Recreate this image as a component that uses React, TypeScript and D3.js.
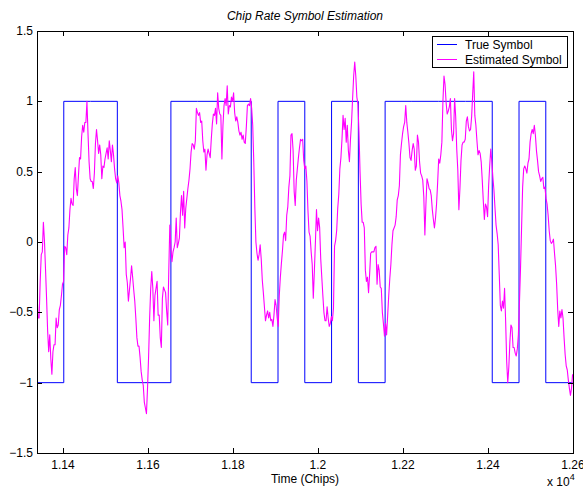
import React from 'react';
import * as d3 from 'd3';

// ---- data ----
const X_START = 11339; // chips, left edge of axis
const X_END = 12600;
const SAMPLE_STEP = 2.5; // chips between estimated samples
const SYMBOL_PERIOD = 63; // chips per symbol

const TRUE_SYMBOLS = [-1, 1, 1, -1, -1, 1, 1, 1, -1, 1, -1, 1, -1, 1, 1, 1, 1, -1, 1, -1];

const ESTIMATED = [
  -0.35, -0.54, -0.54, -0.28, -0.09, -0.07, 0.14, 0.01, -0.19, -0.40,
  -0.63, -0.78, -0.66, -0.83, -0.94, -0.78, -0.73, -0.73, -0.54, -0.61,
  -0.59, -0.48, -0.45, -0.38, -0.30, -0.28, -0.03, -0.04, -0.09, 0.05,
  0.10, 0.23, 0.31, 0.27, 0.26, 0.45, 0.53, 0.38, 0.33, 0.47,
  0.60, 0.59, 0.75, 0.83, 0.78, 0.85, 0.85, 1.00, 0.77, 0.57,
  0.45, 0.43, 0.43, 0.38, 0.49, 0.70, 0.80, 0.72, 0.63, 0.69,
  0.62, 0.45, 0.54, 0.53, 0.59, 0.63, 0.67, 0.59, 0.72, 0.65,
  0.57, 0.69, 0.62, 0.52, 0.45, 0.42, 0.47, 0.42, 0.33, 0.29,
  0.23, 0.10, -0.04, 0.00, -0.23, -0.29, -0.42,
  -0.34, -0.26, -0.17, -0.25, -0.34, -0.42, -0.54, -0.68, -0.74, -0.74,
  -0.82, -0.92, -0.98, -1.02, -1.14, -1.18, -1.22, -1.04, -0.82, -0.54,
  -0.33, -0.21, -0.33, -0.56, -0.38, -0.33, -0.28, -0.52, -0.52, -0.68,
  -0.75, -0.40, -0.32, -0.34, -0.36, -0.49, -0.59, -0.21, 0.12, -0.04,
  -0.14, -0.07, -0.04, 0.00, 0.17, -0.04, -0.01, 0.03, 0.21, 0.33,
  0.19, 0.36, 0.10, 0.24, 0.31, 0.38, 0.44, 0.52, 0.64, 0.70,
  0.69, 0.66, 0.72, 0.95, 0.92, 0.90, 0.92, 0.85, 0.86, 0.72,
  0.64, 0.66, 0.51, 0.62, 0.66, 0.63, 0.60, 0.73, 0.84, 0.91,
  0.90, 0.95, 0.84, 1.06,
  0.95, 0.91, 0.90, 0.59, 0.83, 0.97, 1.02, 0.97, 1.11, 0.91,
  0.97, 0.96, 1.03, 1.00, 1.06, 0.92, 0.86, 0.89, 0.85, 0.79,
  0.76, 0.78, 0.73, 0.76, 0.71, 0.70, 0.82, 0.97, 0.98, 0.97,
  1.02, 0.95, 0.83, 0.57, 0.24, 0.00, -0.08, -0.13, -0.09, -0.02,
  -0.12, -0.27, -0.36, -0.46, -0.56, -0.52, -0.49, -0.54, -0.50, -0.56,
  -0.55, -0.60, -0.52, -0.41, -0.45, -0.54, -0.60, -0.38, -0.25, -0.15,
  -0.06, 0.05, 0.07, 0.01, 0.19, 0.25, 0.39, 0.47, 0.76, 0.77,
  0.65, 0.36, 0.26, 0.44, 0.52, 0.60, 0.67, 0.73, 0.72, 0.73,
  0.58, 0.52, 0.54, 0.43, 0.22,
  0.07, 0.04, -0.07, -0.16, -0.40, -0.21, 0.00, 0.23, 0.08, 0.17,
  0.10, -0.12, -0.25, -0.38, -0.50, -0.56, -0.56, -0.46, -0.54, -0.60,
  -0.58, -0.53, -0.56, -0.47, -0.03, 0.01, 0.08, 0.24, 0.34, 0.52,
  0.60, 0.73, 0.90, 0.80, 0.88, 0.71, 0.83, 0.65, 0.57, 0.73,
  0.85, 1.02, 1.18, 1.28, 1.18, 1.03, 0.98, 0.78, 0.50, 0.27,
  0.14, 0.14, 0.10, -0.20, -0.28, -0.25, -0.36, -0.23, -0.08, -0.07,
  -0.07, -0.07, -0.04, -0.03, -0.30, -0.16, -0.20, -0.32, -0.33, -0.50,
  -0.58, -0.67, -0.58, -0.66, -0.52, -0.38, -0.26, -0.16, -0.02, 0.08,
  0.10, 0.12, 0.18, 0.30, 0.33,
  0.40, 0.62, 0.70, 0.77, 0.82, 0.85, 0.97, 0.85, 0.78, 0.70,
  0.60, 0.58, 0.65, 0.70, 0.66, 0.51, 0.54, 0.76, 0.71, 0.57,
  0.49, 0.47, 0.44, 0.32, 0.05, 0.27, 0.45, 0.42, 0.38, 0.37,
  0.33, 0.23, 0.16, 0.10, 0.17, 0.27, 0.42, 0.59, 0.56, 0.62,
  0.71, 1.00, 1.18, 1.12, 0.99, 0.91, 0.93, 0.96, 1.02, 0.80,
  0.72, 0.77, 1.02, 0.89, 0.66, 0.51, 0.23, 0.38, 0.58, 0.69,
  0.71, 0.71, 0.73, 0.86, 0.89, 0.82, 0.79, 0.80, 0.89, 1.05,
  1.21, 0.90, 0.83, 0.72, 0.62, 0.65, 0.63, 0.57, 0.44, 0.29,
  0.16, 0.27, 0.25, 0.18, 0.40,
  0.54, 0.66, 0.57, 0.46, 0.37, 0.24, 0.12, 0.06, -0.02, -0.23,
  -0.45, -0.49, -0.42, -0.47, -0.33, -0.56, -0.85, -1.00, -0.89, -0.71,
  -0.59, -0.61, -0.75, -0.75, -0.79, -0.81, -0.76, -0.66, -0.43, -0.19,
  0.10, 0.39, 0.52, 0.54, 0.52, 0.49, 0.56, 0.59, 0.71, 0.77,
  0.80, 0.77, 0.83, 0.76, 0.65, 0.58, 0.50, 0.47, 0.43, 0.45,
  0.46, 0.38, 0.39, 0.31, 0.27, 0.19, 0.08, 0.01, -0.01, 0.00,
  0.02, -0.08, -0.17, -0.30, -0.48, -0.60, -0.49, -0.54, -0.48, -0.54,
  -0.68, -0.80, -0.88, -0.91, -0.98, -1.04, -1.09, -1.04, -0.94,
];

const X_TICKS = [11400, 11600, 11800, 12000, 12200, 12400, 12600];
const X_TICK_LABELS = ['1.14', '1.16', '1.18', '1.2', '1.22', '1.24', '1.26'];
const Y_TICKS = [-1.5, -1, -0.5, 0, 0.5, 1, 1.5];
const Y_TICK_LABELS = ['\u22121.5', '\u22121', '\u22120.5', '0', '0.5', '1', '1.5'];

const TITLE = 'Chip Rate Symbol Estimation';
const X_LABEL = 'Time (Chips)';
const SERIES_NAMES = ['True Symbol', 'Estimated Symbol'];
const COLORS = ['#0000ff', '#ff00ff'];

export default function App() {
  const W = 583;
  const H = 488;
  const left = 37;
  const right = 573;
  const top = 31;
  const bottom = 453;
  const font = "'Liberation Sans', Arial, Helvetica, sans-serif";

  const x = d3.scaleLinear().domain([X_START, X_END]).range([left, right]);
  const y = d3.scaleLinear().domain([-1.5, 1.5]).range([bottom, top]);

  const truePts: [number, number][] = TRUE_SYMBOLS.map((s, i) => [X_START + i * SYMBOL_PERIOD, s]);
  truePts.push([X_START + TRUE_SYMBOLS.length * SYMBOL_PERIOD, TRUE_SYMBOLS[TRUE_SYMBOLS.length - 1]]);
  const estPts: [number, number][] = ESTIMATED.map((v, i) => [X_START + i * SAMPLE_STEP, v]);

  const stepLine = d3
    .line<[number, number]>()
    .x((d) => x(d[0]))
    .y((d) => y(d[1]))
    .curve(d3.curveStepAfter);
  const line = d3
    .line<[number, number]>()
    .x((d) => x(d[0]))
    .y((d) => y(d[1]));

  const tickLen = 5;
  const legend = { x0: 432, y0: 36, x1: 567, y1: 67 };

  return (
    <svg
      width={W}
      height={H}
      style={{ position: 'absolute', left: 0, top: 0, background: '#fff' }}
      fontFamily={font}
    >
      <rect x={0} y={0} width={W} height={H} fill="#fff" />
      <defs>
        <clipPath id="plotclip">
          <rect x={left} y={top} width={right - left} height={bottom - top} />
        </clipPath>
      </defs>

      <g clipPath="url(#plotclip)">
        <path d={stepLine(truePts) || ''} fill="none" stroke={COLORS[0]} strokeWidth={1} />
        <path d={line(estPts) || ''} fill="none" stroke={COLORS[1]} strokeWidth={1.1} strokeLinejoin="round" />
      </g>

      {/* axes box */}
      <rect
        x={left + 0.5}
        y={top + 0.5}
        width={right - left}
        height={bottom - top}
        fill="none"
        stroke="#000"
        strokeWidth={1}
        shapeRendering="crispEdges"
      />

      {/* x ticks */}
      {X_TICKS.map((t, i) => {
        const px = Math.round(x(t)) + 0.5;
        return (
          <g key={'xt' + i}>
            <line x1={px} x2={px} y1={bottom} y2={bottom - tickLen} stroke="#000" shapeRendering="crispEdges" />
            <line x1={px} x2={px} y1={top} y2={top + tickLen} stroke="#000" shapeRendering="crispEdges" />
            <text x={x(t)} y={469} fontSize={12} textAnchor="middle" fill="#000">
              {X_TICK_LABELS[i]}
            </text>
          </g>
        );
      })}

      {/* y ticks */}
      {Y_TICKS.map((t, i) => {
        const py = Math.round(y(t)) + 0.5;
        return (
          <g key={'yt' + i}>
            <line x1={left} x2={left + tickLen} y1={py} y2={py} stroke="#000" shapeRendering="crispEdges" />
            <line x1={right} x2={right - tickLen} y1={py} y2={py} stroke="#000" shapeRendering="crispEdges" />
            <text x={33} y={y(t) + 4} fontSize={12} textAnchor="end" fill="#000">
              {Y_TICK_LABELS[i]}
            </text>
          </g>
        );
      })}

      {/* title & labels */}
      <text x={(left + right) / 2} y={20} fontSize={12} fontStyle="italic" textAnchor="middle" fill="#000">
        {TITLE}
      </text>
      <text x={(left + right) / 2} y={483} fontSize={12} textAnchor="middle" fill="#000">
        {X_LABEL}
      </text>
      <text x={547} y={486} fontSize={12} fill="#000">
        x 10
        <tspan dy={-6} fontSize={9}>
          4
        </tspan>
      </text>

      {/* legend */}
      <rect
        x={legend.x0 + 0.5}
        y={legend.y0 + 0.5}
        width={legend.x1 - legend.x0}
        height={legend.y1 - legend.y0}
        fill="#fff"
        stroke="#000"
        shapeRendering="crispEdges"
      />
      {SERIES_NAMES.map((name, i) => {
        const ly = 44.5 + i * 15;
        return (
          <g key={'lg' + i}>
            <line x1={437} x2={457} y1={ly} y2={ly} stroke={COLORS[i]} strokeWidth={1} />
            <text x={465} y={ly + 4} fontSize={12} fill="#000">
              {name}
            </text>
          </g>
        );
      })}
    </svg>
  );
}
